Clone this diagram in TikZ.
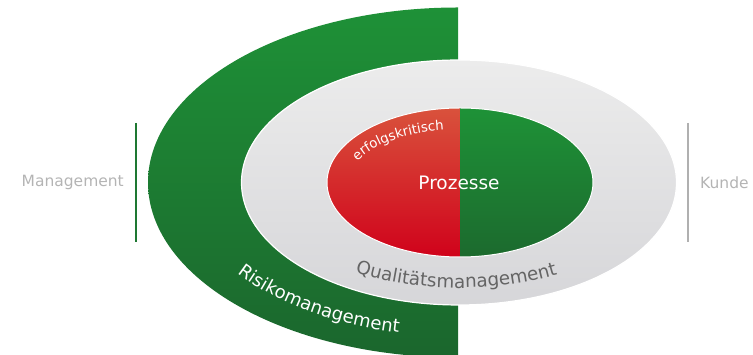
\documentclass[tikz,border=0pt]{standalone}
\usepackage{fontspec}
\setmainfont{DejaVu Sans}
\usetikzlibrary{decorations.text,calc}
\definecolor{gtop}{RGB}{30,145,55}
\definecolor{gbot}{RGB}{27,102,45}
\definecolor{itop}{RGB}{30,146,55}
\definecolor{ibot}{RGB}{28,106,46}
\definecolor{rtop}{RGB}{217,82,60}
\definecolor{rbot}{RGB}{208,2,27}
\definecolor{grtop}{RGB}{236,236,236}
\definecolor{grbot}{RGB}{214,214,217}
\definecolor{lbl}{RGB}{180,180,180}
\definecolor{qtext}{RGB}{100,100,100}
\definecolor{gline}{RGB}{30,120,50}
\definecolor{greyline}{RGB}{176,176,176}
\tikzset{
  sidelabel/.style={text=lbl, font=\fontsize{15.5}{18}\selectfont, inner sep=0pt},
  sideline/.style={line width=2pt},
  outline/.style={draw=white, line width=1.2pt},
}
\begin{document}
\begin{tikzpicture}[x=1pt,y=1pt]
\clip (0,0) rectangle (753,355);
\coordinate (c) at (459,172.5);
% outer green half ring
\path[top color=gtop,bottom color=gbot] (458,347.5) arc[start angle=90,end angle=270,x radius=310pt,y radius=175pt] -- cycle;
% grey ellipse
\path[outline, top color=grtop, bottom color=grbot] (c) ellipse[x radius=217.5pt, y radius=122.5pt];
% inner halves
\path[top color=rtop, bottom color=rbot] (460,247) arc[start angle=90,end angle=270,x radius=133pt,y radius=74.5pt] -- cycle;
\path[top color=itop, bottom color=ibot] (460,247) arc[start angle=90,end angle=-90,x radius=133pt,y radius=74.5pt] -- cycle;
\draw[white, line width=1pt] (460,172.5) ellipse[x radius=133pt, y radius=74.5pt];
% center text
\node[text=white, font=\fontsize{18.5}{22}\selectfont, inner sep=0pt] (proz) at (459,172) {Prozesse};
% curved texts
\path[decorate, decoration={text along path, text align=center,
  text={|\fontsize{13.3}{15}\selectfont\color{white}|erfolgskritisch}}]
  ($(460,172.5)+(160:112pt and 53pt)$) arc[start angle=160, end angle=96, x radius=112pt, y radius=53pt];
\path[decorate, decoration={text along path, text align=center,
  text={|\fontsize{18.3}{21}\selectfont\color{qtext}|Qualit{ä}tsmanagement}}]
  ($(c)+(222:200pt and 105.5pt)$) arc[start angle=222, end angle=316, x radius=200pt, y radius=105.5pt];
\path[decorate, decoration={text along path, text align=center,
  text={|\fontsize{18}{21}\selectfont\color{white}|Risikomanagement}}]
  ($(c)+(211:274pt and 154pt)$) arc[start angle=211, end angle=261, x radius=274pt, y radius=154pt];
% side labels and lines
\coordinate (gl1) at (135.5,232);
\coordinate (gl2) at (135.5,113);
\draw[sideline, gline] (gl1) -- (gl2);
\coordinate (rl1) at (687.5,232);
\coordinate (rl2) at (687.5,113);
\draw[sideline, greyline] (rl1) -- (rl2);
\node[sidelabel, anchor=east] (mgmt) at (124,172.5) {Management};
\node[sidelabel, anchor=west] (kunde) at (700,172.5) {Kunde};
\end{tikzpicture}
\end{document}
